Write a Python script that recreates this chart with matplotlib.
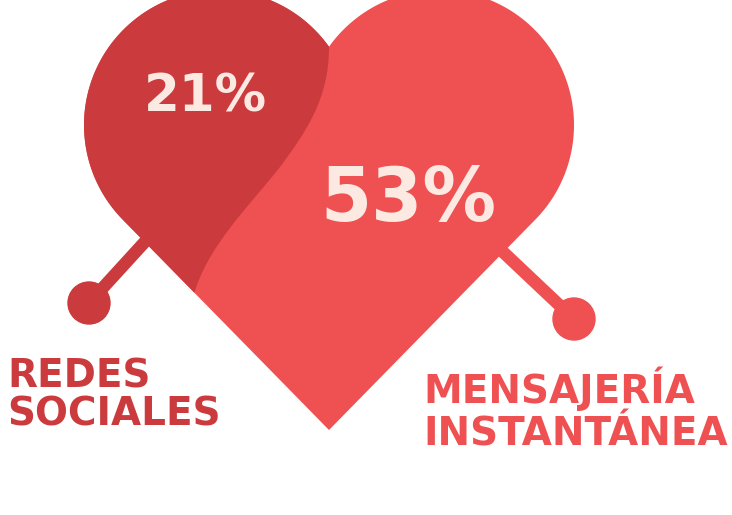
import numpy as np
import matplotlib
matplotlib.use("Agg")
import matplotlib.pyplot as plt
from matplotlib.path import Path
from matplotlib.patches import PathPatch, Polygon, Circle

# datos
categorias = ["REDES\nSOCIALES", "MENSAJERÍA\nINSTANTÁNEA"]
valores = [21, 53]
colores = ["#CB3A3D", "#EF5052"]
color_texto = "#FBE9E2"

fig = plt.figure(figsize=(7.32, 5.15), dpi=100)
ax = fig.add_axes([0, 0, 1, 1])
ax.set_xlim(0, 732)
ax.set_ylim(515, 0)
ax.set_aspect("equal")
ax.axis("off")

# geometria del corazon (coordenadas en pixeles, y hacia abajo)
eje = 329
r = 135
cl = np.array([219.0, 125.0])
punta = np.array([eje, 430.0])

d = punta - cl
dist = np.hypot(*d)
ang_t = np.degrees(np.arctan2(d[1], d[0])) + np.degrees(np.arccos(r / dist))
ang_n = np.degrees(np.arctan2(-np.sqrt(r**2 - (eje - cl[0])**2), eje - cl[0])) + 360

a1 = np.radians(np.linspace(ang_t, ang_n, 200))
izq = np.column_stack([cl[0] + r * np.cos(a1), cl[1] + r * np.sin(a1)])
der = izq[::-1].copy()
der[:, 0] = 2 * eje - der[:, 0]
contorno = np.vstack([punta, izq, der, punta])
corazon = Polygon(contorno, closed=True, facecolor=colores[1], edgecolor="none", zorder=3)
ax.add_patch(corazon)

# zona oscura (redes sociales), recortada con el corazon
verts = [(eje, 47), (eje, 100), (305, 133), (280, 167),
         (252, 203), (205, 248), (193, 298),
         (180, 340), (-50, 340), (-50, -50), (eje, -50), (eje, 47)]
codes = [Path.MOVETO, Path.CURVE4, Path.CURVE4, Path.CURVE4,
         Path.CURVE4, Path.CURVE4, Path.CURVE4,
         Path.LINETO, Path.LINETO, Path.LINETO, Path.LINETO, Path.CLOSEPOLY]
oscuro = PathPatch(Path(verts, codes), facecolor=colores[0], edgecolor="none", zorder=4)
ax.add_patch(oscuro)
oscuro.set_clip_path(corazon)

# conectores
ax.plot([89, 173], [303, 211], color=colores[0], lw=9, solid_capstyle="butt", zorder=1)
ax.add_patch(Circle((89, 303), 21, color=colores[0], zorder=1))
ax.plot([574, 484], [319, 234], color=colores[1], lw=9, solid_capstyle="butt", zorder=1)
ax.add_patch(Circle((574, 319), 21, color=colores[1], zorder=1))

# porcentajes
ax.text(205, 97, f"{valores[0]}%", color=color_texto, fontsize=37, fontweight="bold",
        ha="center", va="center", zorder=6)
ax.text(408, 200, f"{valores[1]}%", color=color_texto, fontsize=53, fontweight="bold",
        ha="center", va="center", zorder=6)

# etiquetas
for i, linea in enumerate(categorias[0].split("\n")):
    ax.text(7, 387 + 38 * i, linea, color=colores[0], fontsize=28, fontweight="bold",
            ha="left", va="baseline")
for i, linea in enumerate(categorias[1].split("\n")):
    ax.text(423, 403 + 42 * i, linea, color=colores[1], fontsize=28, fontweight="bold",
            ha="left", va="baseline")

fig.savefig("out.png", dpi=100)
